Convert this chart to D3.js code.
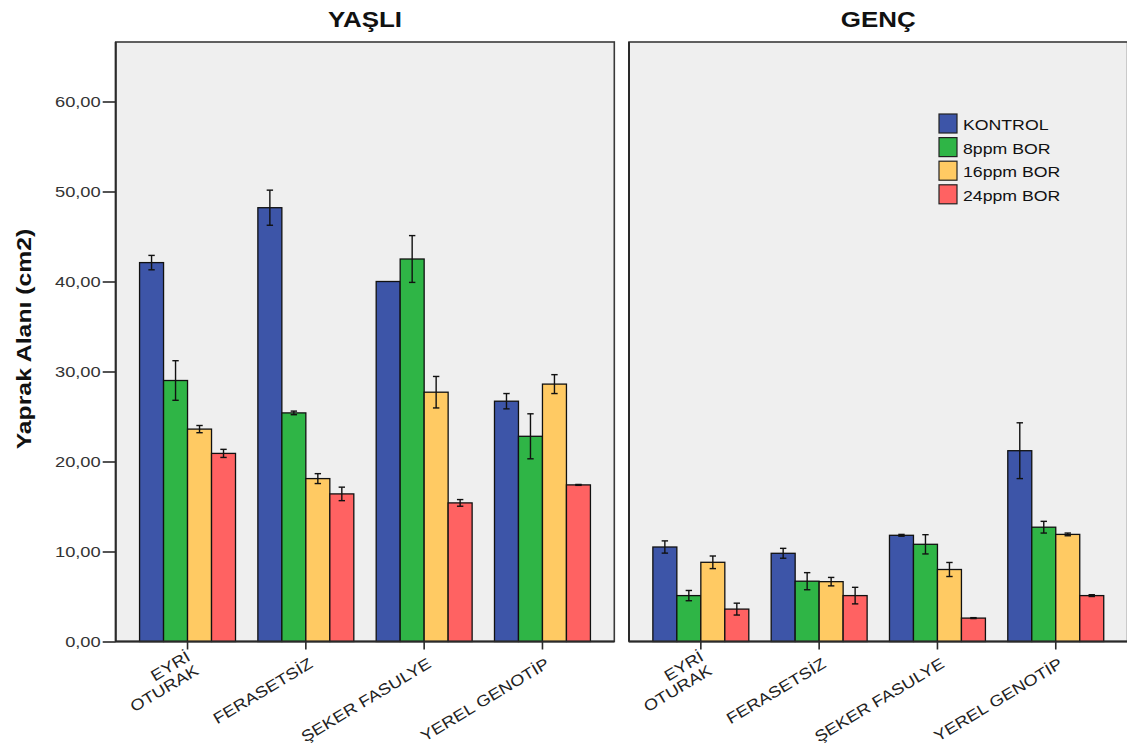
<!DOCTYPE html>
<html>
<head>
<meta charset="utf-8">
<script src="https://cdn.jsdelivr.net/npm/d3@7"></script>
<style>
  html, body { margin: 0; padding: 0; background: #fff; }
  svg { display: block; font-family: "Liberation Sans", Arial, sans-serif; }
</style>
</head>
<body>
<svg id="chart" width="1127" height="751"></svg>
<script>
// ---- Data ----------------------------------------------------------------
const panels = ["YAŞLI", "GENÇ"];
const genotypes = [["EYRİ", "OTURAK"], ["FERASETSİZ"], ["ŞEKER FASULYE"], ["YEREL GENOTİP"]];
const treatments = ["KONTROL", "8ppm BOR", "16ppm BOR", "24ppm BOR"];
const colors = ["#3D55A8", "#2FB546", "#FFCA63", "#FF6262"];
const yTicks = [0, 10, 20, 30, 40, 50, 60];

// mean leaf area (cm2), rows = genotype, columns = treatment
const yasliMeans = [
  [42.1, 29.0, 23.6, 20.9],
  [48.2, 25.4, 18.1, 16.4],
  [40.0, 42.5, 27.7, 15.4],
  [26.7, 22.8, 28.6, 17.4]
];
const yasliErr = [
  [0.8, 2.2, 0.4, 0.45],
  [1.95, 0.2, 0.55, 0.75],
  [0.0, 2.6, 1.75, 0.37],
  [0.85, 2.5, 1.05, 0.05]
];
const gencMeans = [
  [10.5, 5.1, 8.8, 3.6],
  [9.8, 6.7, 6.65, 5.1],
  [11.8, 10.8, 8.0, 2.6],
  [21.2, 12.7, 11.9, 5.1]
];
const gencErr = [
  [0.68, 0.57, 0.7, 0.66],
  [0.55, 0.95, 0.47, 0.92],
  [0.1, 1.07, 0.78, 0.05],
  [3.1, 0.65, 0.15, 0.1]
];
const panelMeans = [yasliMeans, gencMeans];
const panelErr = [yasliErr, gencErr];

// ---- Layout --------------------------------------------------------------
const svg = d3.select("#chart");
const plotTop = 42, plotBottom = 641.5;
const panelLeft = [115.7, 629];
const panelW = 498.6;
const stretch = 1.18;   // wide lettering used throughout
const fontFamily = '"Liberation Sans", Arial, sans-serif';

const y = d3.scaleLinear().domain([0, (plotBottom - plotTop) / 9]).range([plotBottom, plotTop]);
const fmt = d3.formatLocale({ decimal: ",", thousands: ".", grouping: [3], currency: ["", ""] }).format(".2f");

const x0 = d3.scaleBand().domain(d3.range(genotypes.length))
  .range([0, panelW]).paddingInner(0.189).paddingOuter(0.2017);
const x1 = d3.scaleBand().domain(d3.range(treatments.length))
  .range([0, x0.bandwidth()]).padding(0);

panels.forEach((title, p) => {
  const g = svg.append("g").attr("transform", `translate(${panelLeft[p]},0)`);

  // panel background
  g.append("rect")
    .attr("x", 0).attr("y", plotTop)
    .attr("width", panelW).attr("height", plotBottom - plotTop)
    .attr("fill", "#EFEFEF")
    .attr("stroke", "#3a3a3a").attr("stroke-width", 1.6);

  // title
  g.append("text")
    .attr("transform", `translate(${panelW / 2},27) scale(${stretch},1)`)
    .attr("text-anchor", "middle")
    .attr("font-size", 22).attr("font-weight", "bold")
    .attr("fill", "#111")
    .text(title);

  // bars
  const groups = g.selectAll("g.grp").data(panelMeans[p]).join("g")
    .attr("class", "grp")
    .attr("transform", (d, i) => `translate(${x0(i)},0)`);

  groups.selectAll("rect").data(d => d).join("rect")
    .attr("x", (d, j) => x1(j))
    .attr("y", d => y(d))
    .attr("width", x1.bandwidth())
    .attr("height", d => y(0) - y(d))
    .attr("fill", (d, j) => colors[j])
    .attr("stroke", "#111").attr("stroke-width", 1.3);

  // error bars
  groups.each(function (d, i) {
    const eg = d3.select(this);
    d.forEach((m, j) => {
      const e = panelErr[p][i][j];
      if (e <= 0) return;
      const cx = x1(j) + x1.bandwidth() / 2;
      const y1 = y(m + e), y2 = y(m - e);
      eg.append("line").attr("x1", cx).attr("x2", cx).attr("y1", y1).attr("y2", y2)
        .attr("stroke", "#111").attr("stroke-width", 1.4);
      [y1, y2].forEach(yy => eg.append("line")
        .attr("x1", cx - 3.2).attr("x2", cx + 3.2).attr("y1", yy).attr("y2", yy)
        .attr("stroke", "#111").attr("stroke-width", 1.4));
    });
  });

  // axis lines and category ticks
  g.append("line").attr("x1", 0).attr("x2", panelW).attr("y1", plotBottom).attr("y2", plotBottom)
    .attr("stroke", "#2a2a2a").attr("stroke-width", 2);
  g.append("line").attr("x1", 0).attr("x2", 0).attr("y1", plotTop).attr("y2", plotBottom)
    .attr("stroke", "#2a2a2a").attr("stroke-width", 2);

  const xt = g.selectAll("g.xtick").data(genotypes).join("g")
    .attr("class", "xtick")
    .attr("transform", (d, i) => `translate(${x0(i) + x0.bandwidth() / 2},${plotBottom})`);
  xt.append("line").attr("y1", 0).attr("y2", 8).attr("stroke", "#2a2a2a").attr("stroke-width", 1.6);
  xt.each(function (lines) {
    const t = d3.select(this).append("text")
      .attr("transform", `translate(8,25) rotate(-31) scale(${stretch},1)`)
      .attr("text-anchor", "end")
      .attr("font-size", 15.5)
      .attr("fill", "#222");
    const n = lines.length;
    lines.forEach((ln, k) => {
      t.append("tspan").attr("x", 0).attr("y", (k - (n - 1) / 2) * 16).text(ln);
    });
  });

  // value axis on the first panel only
  if (p === 0) {
    const ya = g.append("g").call(d3.axisLeft(y).tickValues(yTicks).tickSize(13).tickFormat(fmt));
    ya.select(".domain").remove();
    ya.selectAll(".tick line").attr("stroke", "#2a2a2a").attr("stroke-width", 1.6);
    ya.selectAll(".tick text")
      .attr("x", null)
      .attr("transform", `translate(-15,0) scale(${stretch},1)`)
      .attr("font-size", 15.5)
      .attr("font-family", fontFamily)
      .attr("fill", "#333");
  }
});

// value axis title
svg.append("text")
  .attr("transform", `translate(31,339) rotate(-90) scale(${stretch},1)`)
  .attr("text-anchor", "middle")
  .attr("font-size", 21).attr("font-weight", "bold")
  .attr("fill", "#111")
  .text("Yaprak Alanı (cm2)");

// legend
const leg = svg.append("g").attr("transform", "translate(939,114)");
const items = leg.selectAll("g").data(treatments).join("g")
  .attr("transform", (d, i) => `translate(0,${i * 23.6})`);
items.append("rect").attr("width", 18).attr("height", 19)
  .attr("fill", (d, i) => colors[i])
  .attr("stroke", "#222").attr("stroke-width", 1.2);
items.append("text")
  .attr("transform", `translate(24,16) scale(${stretch},1)`)
  .attr("font-size", 15).attr("fill", "#111")
  .text(d => d);
</script>
</body>
</html>
